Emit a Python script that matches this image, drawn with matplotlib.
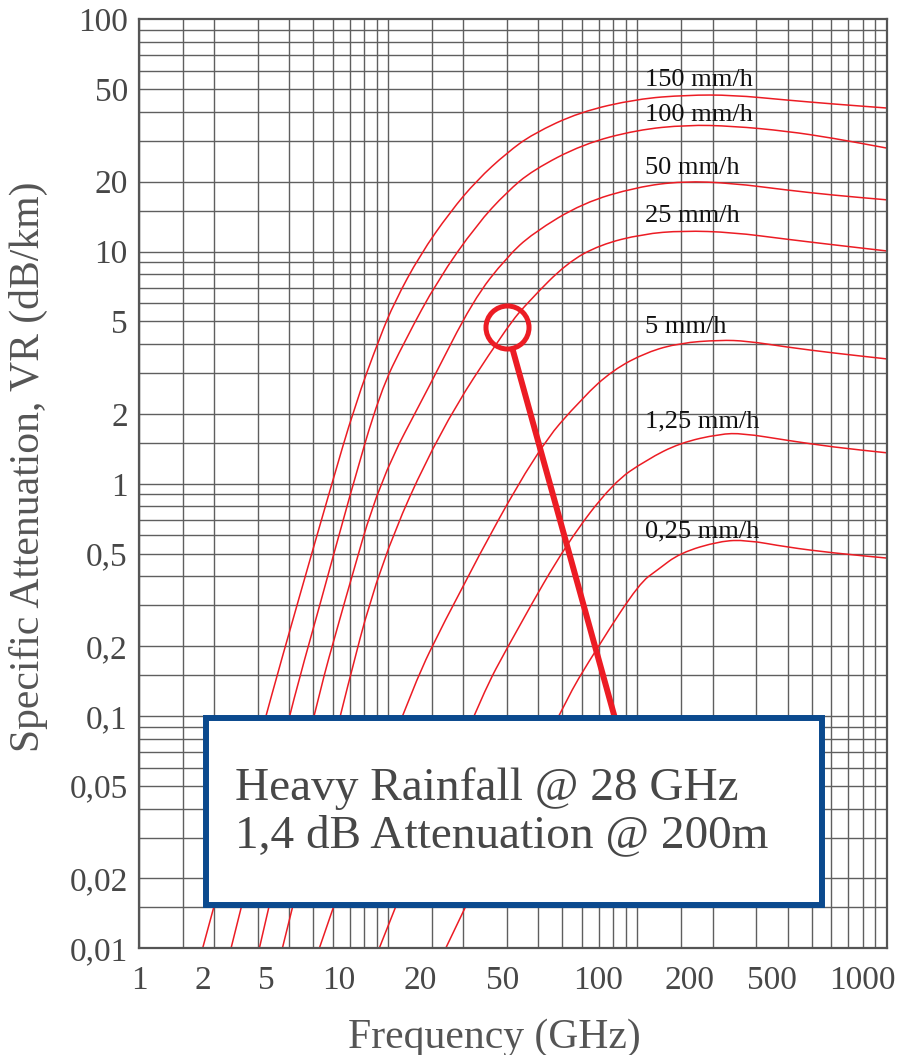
import numpy as np
import matplotlib.pyplot as plt
from matplotlib.patches import Rectangle, PathPatch
from matplotlib.path import Path
from matplotlib.ticker import NullLocator

plt.rcParams['font.family'] = ['Liberation Serif', 'DejaVu Serif']

# specific attenuation curves: frequency (GHz) -> dB/km
f_150 = [1.80, 3.23, 4.42, 5.84, 7.35, 9.26, 10.6, 13.4, 17.7, 22.7, 29.9, 38.0, 58.7, 99.4, 158, 241, 397, 608, 1000]
a_150 = [0.010, 0.101, 0.332, 0.94, 2.18, 4.29, 6.06, 9.66, 14.8, 20.3, 26.6, 32.1, 39.9, 45.4, 47.2, 47.2, 44.9, 43.2, 41.5]

f_100 = [2.34, 4.00, 5.32, 7.02, 9.26, 11.7, 15.8, 22.7, 29.9, 38.0, 60.4, 99.4, 158, 241, 397, 608, 1000]
a_100 = [0.010, 0.101, 0.301, 0.895, 2.48, 4.16, 7.54, 13.1, 18.05, 22.4, 29.0, 33.4, 35.1, 34.7, 33.0, 30.8, 27.9]

f_50 = [3.04, 4.99, 6.71, 9.26, 14.7, 21.9, 29.9, 38.0, 60.4, 99.4, 152, 241, 397, 608, 1000]
a_50 = [0.010, 0.101, 0.316, 1.04, 2.66, 6.18, 9.47, 12.0, 16.2, 18.96, 20.1, 19.7, 18.4, 17.5, 16.7]

f_25 = [3.76, 6.40, 9.26, 16.1, 29.9, 37.0, 52.1, 70.7, 105, 152, 241, 397, 608, 1000]
a_25 = [0.010, 0.101, 0.456, 1.70, 4.73, 6.18, 8.93, 10.7, 11.9, 12.3, 12.1, 11.3, 10.7, 10.06]

f_5 = [5.29, 11.1, 19.4, 39.5, 60.4, 79.7, 109, 148, 214, 275, 397, 608, 1000]
a_5 = [0.010, 0.103, 0.349, 1.40, 2.36, 3.09, 3.69, 4.04, 4.16, 4.12, 3.88, 3.66, 3.45]

f_125 = [9.20, 21.7, 33.8, 52.1, 79.7, 109, 148, 214, 265, 397, 608, 1000]
a_125 = [0.010, 0.103, 0.249, 0.556, 1.01, 1.27, 1.50, 1.64, 1.65, 1.54, 1.44, 1.36]

f_025 = [17.0, 47.9, 70.7, 102, 120, 148, 214, 275, 397, 608, 1000]
a_025 = [0.010, 0.103, 0.206, 0.374, 0.425, 0.504, 0.567, 0.573, 0.534, 0.504, 0.479]

curves = [(f_150, a_150), (f_100, a_100), (f_50, a_50), (f_25, a_25),
          (f_5, a_5), (f_125, a_125), (f_025, a_025)]
curve_names = ['150 mm/h', '100 mm/h', '50 mm/h', '25 mm/h', '5 mm/h', '1,25 mm/h', '0,25 mm/h']
name_y = [54.8, 38.7, 22.9, 14.2, 4.73, 1.86, 0.626]

# tick labels as printed on the chart
x_labels = ['1', '2', '5', '10', '20', '50', '100', '200', '500', '1000']
x_label_pos = [1.0, 1.80, 3.23, 6.34, 13.4, 28.8, 69.3, 162, 345, 802]
y_vals = [100, 50, 20, 10, 5, 2, 1, 0.5, 0.2, 0.1, 0.05, 0.02, 0.01]
y_labels = ['100', '50', '20', '10', '5', '2', '1', '0,5', '0,2', '0,1', '0,05', '0,02', '0,01']

# marked point (heavy rain at ~28 GHz) and its pointer
mark_f, mark_a = 29.9, 4.73
pointer_f = [31.6, 83.0]
pointer_a = [3.77, 0.09]

red = '#ec1c24'
grid_c = '#5f5f5f'
txt_c = '#474747'


def smooth_path(f, a):
    # quadratic bezier through the read points, corners rounded in log space
    lx = np.log10(f)
    ly = np.log10(a)
    verts = [(f[0], a[0])]
    codes = [Path.MOVETO]
    for i in range(1, len(f) - 1):
        mid = (10 ** ((lx[i] + lx[i + 1]) / 2), 10 ** ((ly[i] + ly[i + 1]) / 2))
        verts += [(f[i], a[i]), mid]
        codes += [Path.CURVE3, Path.CURVE3]
    verts.append((f[-1], a[-1]))
    codes.append(Path.LINETO)
    return Path(verts, codes)


fig = plt.figure(figsize=(9.03, 10.55), dpi=100)
ax = fig.add_axes([0.1539, 0.1011, 0.8281, 0.8806])
ax.set_xscale('log')
ax.set_yscale('log')
ax.set_xlim(1, 1000)
ax.set_ylim(0.01, 100)

steps = [1, 1.5, 2, 3, 4, 5, 6, 7, 8, 9]
for dec in [1, 10, 100]:
    for s in steps:
        ax.axvline(s * dec, color=grid_c, lw=1.0, zorder=1)
for dec in [0.01, 0.1, 1, 10]:
    for s in steps:
        ax.axhline(s * dec, color=grid_c, lw=1.0, zorder=1)

for (f, a) in curves:
    ax.add_patch(PathPatch(smooth_path(f, a), fill=False, edgecolor=red, lw=1.1, zorder=2))

for name, y in zip(curve_names, name_y):
    ax.text(107, y, name, fontsize=19, color='#111111', ha='left', va='center', zorder=3)

ax.plot([mark_f], [mark_a], 'o', ms=31, mfc='none', mec=red, mew=3.6, zorder=4)
ax.plot(pointer_f, pointer_a, color=red, lw=4.3, solid_capstyle='butt', zorder=4)

box = Rectangle((0.0896, 0.0466), 0.8239, 0.2013, transform=ax.transAxes,
                facecolor='white', edgecolor='#0b4a8e', lw=4.3, zorder=5)
ax.add_patch(box)
ax.text(0.1284, 0.1596, 'Heavy Rainfall @ 28 GHz', transform=ax.transAxes,
        fontsize=34, color=txt_c, ha='left', va='baseline', zorder=6)
ax.text(0.1284, 0.1090, '1,4 dB Attenuation @ 200m', transform=ax.transAxes,
        fontsize=34, color=txt_c, ha='left', va='baseline', zorder=6)

ax.set_xticks(x_label_pos, x_labels)
ax.set_yticks(y_vals, y_labels)
ax.xaxis.set_minor_locator(NullLocator())
ax.yaxis.set_minor_locator(NullLocator())
ax.tick_params(axis='both', length=0, labelsize=24, labelcolor=txt_c)
ax.tick_params(axis='x', pad=12)
ax.tick_params(axis='y', pad=8)

for sp in ax.spines.values():
    sp.set_color('#555555')
    sp.set_linewidth(1.6)
    sp.set_zorder(7)

fig.text(0.032, 1 - 467 / 1055, 'Specific Attenuation, VR (dB/km)', rotation=90,
         fontsize=30, color='#555555', ha='center', va='center')
fig.text(494 / 903, 0.0066, 'Frequency (GHz)', fontsize=30, color='#555555',
         ha='center', va='baseline')

fig.savefig('out.png', dpi=100)
